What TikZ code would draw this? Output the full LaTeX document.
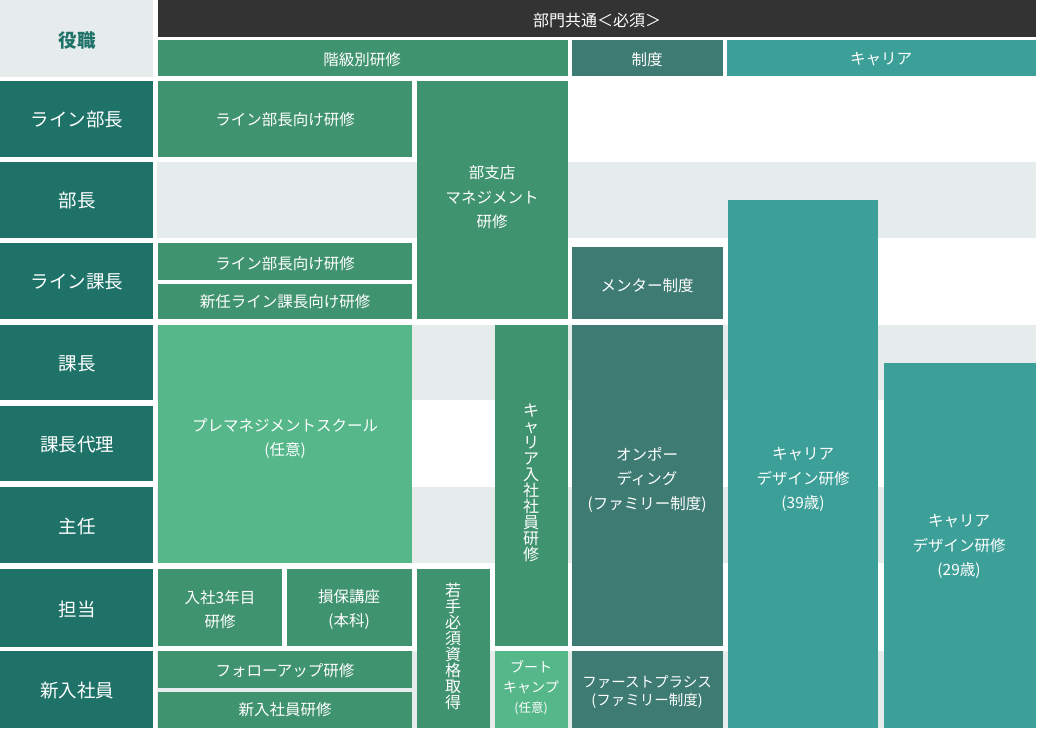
\documentclass[tikz,border=0pt]{standalone}
\usepackage{fontspec}
\setmainfont{Noto Sans CJK JP}
\definecolor{cDark}{HTML}{333333}
\definecolor{cRole}{HTML}{1E7268}
\definecolor{cGray}{HTML}{E6ECEC}
\definecolor{cMid}{HTML}{40936F}
\definecolor{cLight}{HTML}{55B78A}
\definecolor{cSys}{HTML}{3E7B73}
\definecolor{cCar}{HTML}{3C9F98}
\tikzset{
  txt/.style={text=white, align=center, font=\fontsize{15.5}{24.5}\selectfont, inner sep=0pt, yshift=-1.5pt},
  role/.style={text=white, align=center, font=\fontsize{18.5}{22}\selectfont, inner sep=0pt, yshift=-1pt},
  vert/.style={text=white, align=center, font=\fontsize{16}{16}\selectfont, inner sep=0pt},
}
\begin{document}
\begin{tikzpicture}[x=1pt,y=-1pt]
\useasboundingbox (0,0) rectangle (1040,734);
\fill[white] (0,0) rectangle (1040,734);
% gray bands
\fill[cGray] (0,0) rectangle (153,77);
\fill[cGray] (157,162) rectangle (1036,238);
\fill[cGray] (157,325) rectangle (1036,400);
\fill[cGray] (157,487) rectangle (1036,563);
\fill[cGray] (157,651) rectangle (1036,728);
% header
\fill[cDark] (158,0) rectangle (1036,37);
\fill[cMid] (158,40) rectangle (568,76);
\fill[cSys] (572,40) rectangle (723,76);
\fill[cCar] (727,40) rectangle (1036,76);
\node[txt, font=\fontsize{16}{20}\selectfont] (hAll) at (597,19) {部門共通＜必須＞};
\node[txt] (hRank) at (362,58) {階級別研修};
\node[txt] (hSys) at (647,58) {制度};
\node[txt] (hCar) at (881,58) {キャリア};
\node[inner sep=0pt, text=cRole, font=\fontsize{18.5}{22}\selectfont\bfseries] (hRole) at (77,41) {役職};
% role column
\foreach \ya/\yb/\nm/\t in {81/157/r1/ライン部長, 162/238/r2/部長, 243/319/r3/ライン課長, 325/400/r4/課長, 406/481/r5/課長代理, 487/563/r6/主任, 569/647/r7/担当, 651/728/r8/新入社員}{
  \fill[cRole] (0,\ya) rectangle (153,\yb);
  \node[role] (\nm) at (77,{(\ya+\yb)/2}) {\t};
}
% column A
\fill[cMid] (158,81) rectangle (412,157);
\node[txt] (bA1) at (285,118) {ライン部長向け研修};
\fill[cMid] (158,243) rectangle (412,280);
\node[txt] (bA2) at (285,262) {ライン部長向け研修};
\fill[cMid] (158,284) rectangle (412,319);
\node[txt] (bA3) at (285,300) {新任ライン課長向け研修};
\fill[cLight] (158,325) rectangle (412,563);
\node[txt] (bA4) at (285,437) {プレマネジメントスクール\\(任意)};
\fill[cMid] (158,569) rectangle (282,646);
\node[txt] (bA5) at (220,608) {入社3年目\\研修};
\fill[cMid] (287,569) rectangle (412,646);
\node[txt] (bA6) at (349,608) {損保講座\\(本科)};
\fill[cMid] (158,651) rectangle (412,688);
\node[txt] (bA7) at (285,669) {フォローアップ研修};
\fill[cMid] (158,692) rectangle (412,728);
\node[txt] (bA8) at (285,708) {新入社員研修};
% column B
\fill[cMid] (417,81) rectangle (568,319);
\node[txt] (bB1) at (492,196) {部支店\\マネジメント\\研修};
\fill[cMid] (417,569) rectangle (490,728);
\node[vert] (bB2) at (453,646) {若\\手\\必\\須\\資\\格\\取\\得};
\fill[cMid] (495,325) rectangle (568,646);
\node[vert] (bB3) at (531,483) {キ\\ャ\\リ\\ア\\入\\社\\社\\員\\研\\修};
\fill[cLight] (495,651) rectangle (568,728);
\node[txt, font=\fontsize{14}{20}\selectfont] (bB4) at (531,686) {ブート\\キャンプ\\{\fontsize{12.5}{20}\selectfont(任意)}};
% column C
\fill[cSys] (572,247) rectangle (723,319);
\node[txt] (bC1) at (647,284) {メンター制度};
\fill[cSys] (572,325) rectangle (723,646);
\node[txt] (bC2) at (647,478) {オンポー\\ディング\\(ファミリー制度)};
\fill[cSys] (572,651) rectangle (723,728);
\node[txt, font=\fontsize{14.5}{18}\selectfont] (bC3) at (647,690) {ファーストプラシス\\(ファミリー制度)};
% columns D, E
\fill[cCar] (728,200) rectangle (878,728);
\node[txt] (bD1) at (803,478) {キャリア\\デザイン研修\\(39歳)};
\fill[cCar] (884,363) rectangle (1036,728);
\node[txt] (bE1) at (959,545) {キャリア\\デザイン研修\\(29歳)};
\end{tikzpicture}
\end{document}
